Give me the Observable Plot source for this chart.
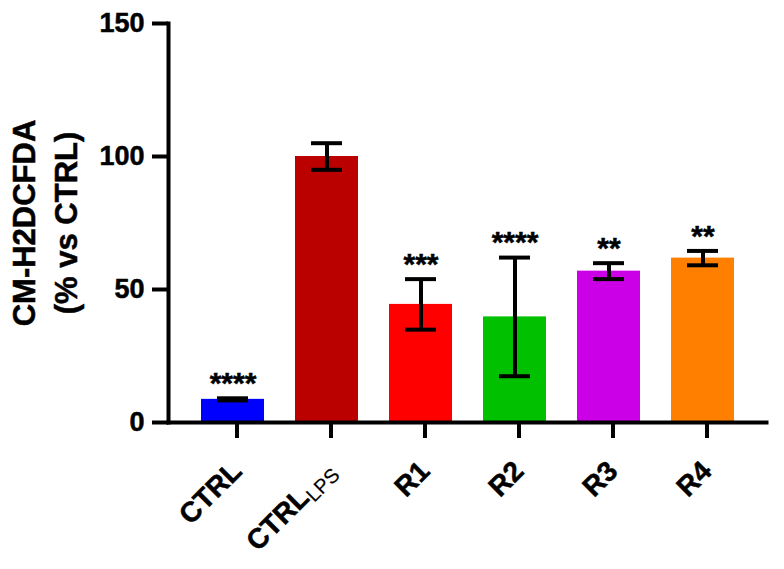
<!DOCTYPE html>
<html><head><meta charset="utf-8">
<script src="https://cdn.jsdelivr.net/npm/d3@7"></script>
<script src="https://cdn.jsdelivr.net/npm/@observablehq/plot@0.6"></script>
<style>
body{margin:0;background:#fff}
#chart svg{font-family:"Liberation Sans",Arial,sans-serif}
#chart svg text{stroke:black;stroke-width:0.5px;paint-order:stroke}
</style>
</head><body><div id="chart"></div>
<script>
const groups = ["CTRL", "CTRL_LPS", "R1", "R2", "R3", "R4"];
const means  = [8.7, 100, 44.4, 39.7, 56.9, 61.8];
const errors = [0.4, 5, 9.5, 22.3, 3, 2.7];
const stars  = ["****", "", "***", "****", "**", "**"];
const colors = ["#0000ff", "#bb0000", "#ff0000", "#00c000", "#cc00e6", "#ff8000"];
const yTicks = [0, 50, 100, 150];
const yLabel = "CM-H2DCFDA\n(% vs CTRL)";

const data = groups.map((g, i) => ({
  group: g, mean: means[i], lo: means[i] - errors[i], hi: means[i] + errors[i], star: stars[i]
}));

const chart = Plot.plot({
  width: 784, height: 569,
  marginTop: 23, marginLeft: 168, marginRight: 18, marginBottom: 147,
  style: {fontFamily: '"Liberation Sans", Arial, sans-serif', color: "black", background: "white", overflow: "visible"},
  x: {domain: groups, padding: 0.33},
  y: {domain: [0, 150]},
  color: {domain: groups, range: colors},
  marks: [
    Plot.barY(data, {x: "group", y: "mean", fill: "group"}),
    Plot.ruleX(data, {x: "group", y1: "lo", y2: "hi", stroke: "black", strokeWidth: 4}),
    Plot.tickY(data, {x: "group", y: "lo", stroke: "black", strokeWidth: 4, insetLeft: 16, insetRight: 16}),
    Plot.tickY(data, {x: "group", y: "hi", stroke: "black", strokeWidth: 4, insetLeft: 16, insetRight: 16}),
    Plot.text(data.filter(d => d.star), {x: "group", y: "hi", text: "star", fontSize: 30, fontWeight: "bold", dy: -15, fill: "black"}),
    Plot.frame({anchor: "left", stroke: "black", strokeWidth: 4, strokeLinecap: "square"}),
    Plot.frame({anchor: "bottom", stroke: "black", strokeWidth: 4}),
    Plot.axisY({ticks: yTicks, tickSize: 16, tickPadding: 8, fontSize: 27, fontWeight: "bold", strokeWidth: 4, label: null}),
    Plot.axisX({tickSize: 16, tickPadding: 28, tickRotate: -45, fontSize: 28, fontWeight: "bold", strokeWidth: 4, label: null, dx: 4}),
    Plot.text([yLabel], {text: d => d, frameAnchor: "left", textAnchor: "middle", rotate: -90, dx: -126, fontSize: 31, fontWeight: "bold", lineHeight: 1.35, fill: "black"})
  ]
});
document.getElementById("chart").appendChild(chart);

// subscript for CTRL_LPS
chart.querySelectorAll("text").forEach(t => {
  if (t.textContent === "CTRL_LPS") {
    t.textContent = "CTRL";
    const ts = document.createElementNS("http://www.w3.org/2000/svg", "tspan");
    ts.textContent = "LPS";
    ts.setAttribute("font-weight", "normal");
    ts.setAttribute("font-size", "20");
    ts.setAttribute("stroke-width", "0.2");
    ts.setAttribute("dy", "5");
    t.appendChild(ts);
  }
});
</script>
</body></html>
